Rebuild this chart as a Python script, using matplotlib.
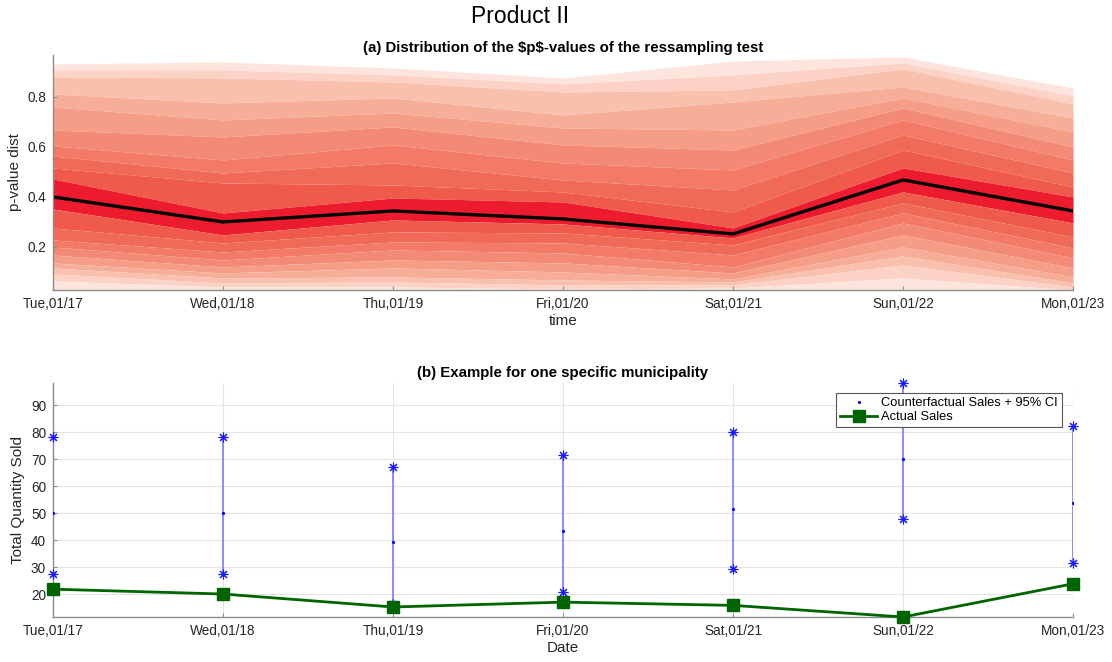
import numpy as np
import matplotlib
matplotlib.use('Agg')
import matplotlib.pyplot as plt

plt.rcParams['font.family'] = ['Liberation Sans', 'DejaVu Sans']

dates = ['Tue,01/17', 'Wed,01/18', 'Thu,01/19', 'Fri,01/20', 'Sat,01/21', 'Sun,01/22', 'Mon,01/23']

# p-value distribution, quantile edges from top (max) to bottom (min), median in the middle
tue_q = [0.931, 0.907, 0.879, 0.811, 0.759, 0.667, 0.603, 0.563, 0.515, 0.471, 0.399,
         0.351, 0.275, 0.227, 0.199, 0.167, 0.135, 0.115, 0.091, 0.063, 0.019]
wed_q = [0.939, 0.907, 0.875, 0.775, 0.707, 0.639, 0.547, 0.495, 0.455, 0.335, 0.299,
         0.247, 0.215, 0.179, 0.147, 0.119, 0.095, 0.075, 0.055, 0.039, 0.019]
thu_q = [0.915, 0.887, 0.859, 0.795, 0.735, 0.679, 0.607, 0.535, 0.447, 0.395, 0.343,
         0.307, 0.259, 0.219, 0.187, 0.147, 0.115, 0.079, 0.059, 0.039, 0.019]
fri_q = [0.875, 0.851, 0.819, 0.727, 0.675, 0.607, 0.535, 0.467, 0.419, 0.379, 0.311,
         0.291, 0.255, 0.215, 0.175, 0.135, 0.099, 0.067, 0.047, 0.031, 0.019]
sat_q = [0.943, 0.887, 0.827, 0.779, 0.667, 0.587, 0.507, 0.427, 0.339, 0.275, 0.251,
         0.235, 0.207, 0.167, 0.119, 0.095, 0.071, 0.059, 0.047, 0.035, 0.019]
sun_q = [0.959, 0.935, 0.911, 0.839, 0.795, 0.755, 0.707, 0.647, 0.587, 0.515, 0.467,
         0.419, 0.375, 0.335, 0.295, 0.247, 0.199, 0.163, 0.127, 0.075, 0.019]
mon_q = [0.835, 0.803, 0.771, 0.715, 0.659, 0.599, 0.547, 0.495, 0.439, 0.399, 0.343,
         0.295, 0.239, 0.195, 0.155, 0.115, 0.079, 0.055, 0.039, 0.027, 0.019]

# colours from the median band outwards
band_colors = ['#EC1C2E', '#F05A4B', '#F06A58', '#F27A67', '#F38A76',
               '#F59D87', '#F7AE99', '#F9C0AE', '#FBD2C5', '#FDE5DE']

# counterfactual sales + 95% CI, actual sales
cf_upper = [78.3, 78.3, 67.2, 71.5, 79.9, 98.3, 82.2]
cf_mean = [50.1, 50.1, 39.1, 43.4, 51.5, 70.2, 53.9]
cf_lower = [27.6, 27.6, 16.4, 20.9, 29.1, 47.7, 31.5]
actual = [21.8, 20.0, 15.2, 17.0, 15.8, 11.5, 23.8]

x = np.arange(len(dates))
q = np.array([tue_q, wed_q, thu_q, fri_q, sat_q, sun_q, mon_q]).T  # rows = quantile level
n = q.shape[0]
mid = n // 2

fig = plt.figure(figsize=(11.12, 6.62), dpi=100)
fig.text(0.468, 0.975, 'Product II', fontsize=16.5, ha='center', va='center', color='black')

axis_col = '#8c8c8c'
text_col = '#262626'

# ---- (a) fan chart
ax1 = fig.add_axes([0.0477, 0.562, 0.9173, 0.355])
for i in range(n - 1):
    d = (mid - 1 - i) if i < mid else (i - mid)
    ax1.fill_between(x, q[i + 1], q[i], color=band_colors[d], linewidth=0)
ax1.plot(x, q[mid], color='black', lw=2.4)
ax1.set_xlim(0, 6)
ax1.set_ylim(0.027, 0.967)
ax1.set_yticks([0.2, 0.4, 0.6, 0.8])
ax1.set_xticks(x)
ax1.set_xticklabels(dates)
ax1.set_xlabel('time', fontsize=11, color=text_col, labelpad=2)
ax1.set_ylabel('p-value dist', fontsize=11, color=text_col)
ax1.set_title('(a) Distribution of the \\$p\\$-values of the ressampling test',
              fontsize=10.8, fontweight='bold', pad=1)

# ---- (b) one municipality
ax2 = fig.add_axes([0.0477, 0.068, 0.9173, 0.354])
ax2.grid(True, color='#e4e4e4', lw=0.8)
ax2.vlines(x, cf_lower, cf_upper, color='#8c8cff', lw=1.4, zorder=2)
ax2.plot(x, cf_upper, marker=(8, 2, 0), color='#1a1aff', ms=7, mew=0.8, ls='none',
         clip_on=False, zorder=3)
ax2.plot(x, cf_lower, marker=(8, 2, 0), color='#1a1aff', ms=7, mew=0.8, ls='none',
         clip_on=False, zorder=3)
ax2.plot(x, cf_mean, '.', color='#0000ff', ms=2.5, ls='none', zorder=3,
         label='Counterfactual Sales + 95% CI')
ax2.plot(x, actual, '-s', color='#006400', lw=2, ms=8.5, clip_on=False, zorder=4,
         label='Actual Sales')
ax2.set_xlim(0, 6)
ax2.set_ylim(11.5, 98.3)
ax2.set_yticks(range(20, 100, 10))
ax2.set_xticks(x)
ax2.set_xticklabels(dates)
ax2.set_xlabel('Date', fontsize=11, color=text_col, labelpad=2)
ax2.set_ylabel('Total Quantity Sold', fontsize=11, color=text_col)
ax2.set_title('(b) Example for one specific municipality', fontsize=10.8,
              fontweight='bold', pad=4)
leg = ax2.legend(loc='upper right', bbox_to_anchor=(0.989, 0.955), fontsize=9.3,
                 fancybox=False, framealpha=1, edgecolor='#555555',
                 borderpad=0.3, labelspacing=0.15, handlelength=2.9, handletextpad=0.3,
                 borderaxespad=0)
leg.get_frame().set_linewidth(0.8)

for ax in (ax1, ax2):
    for s in ('top', 'right'):
        ax.spines[s].set_visible(False)
    for s in ('left', 'bottom'):
        ax.spines[s].set_color(axis_col)
        ax.spines[s].set_linewidth(1.0)
    ax.tick_params(direction='in', length=3, color=axis_col, labelsize=9.8,
                   labelcolor=text_col, pad=5)

fig.savefig('out.png', dpi=100)
